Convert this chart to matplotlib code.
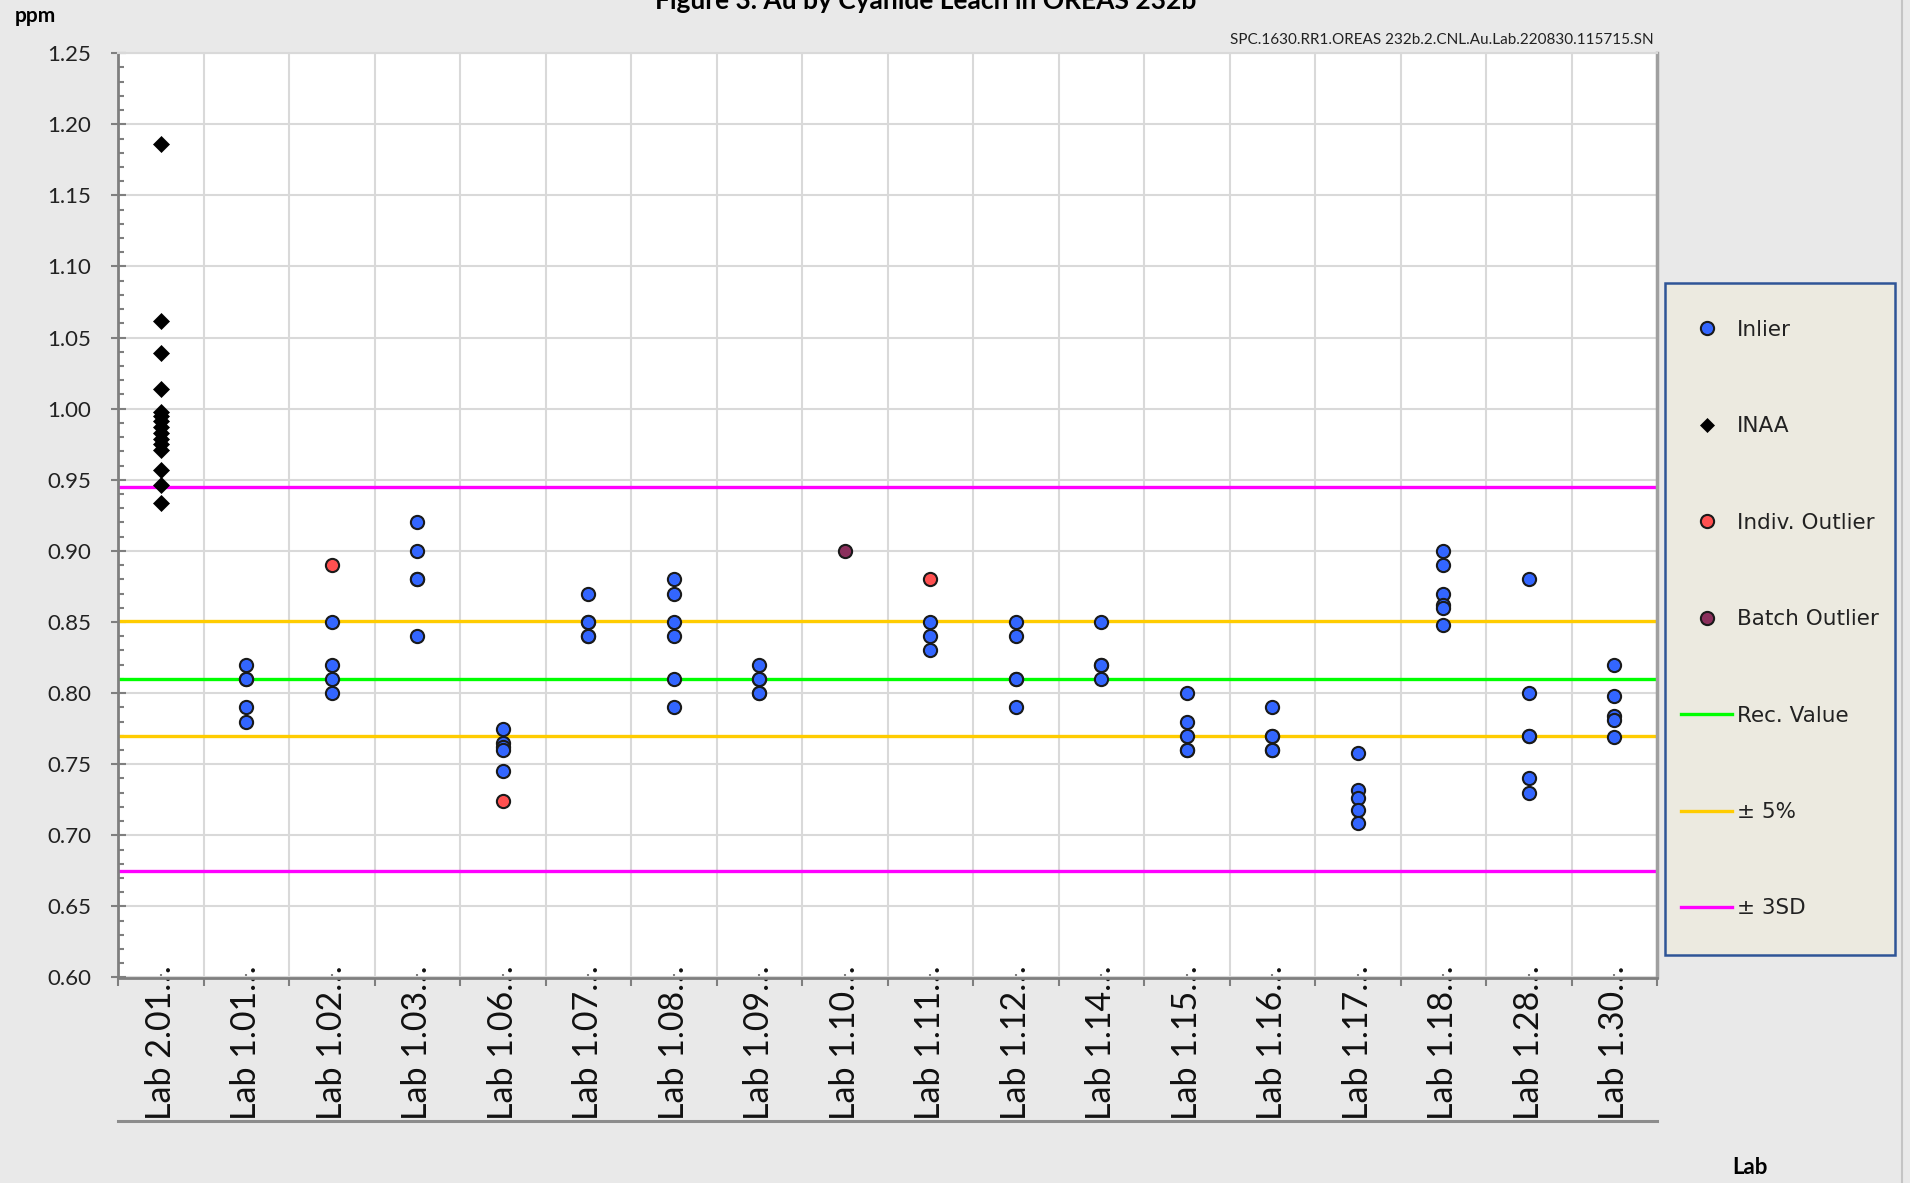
import numpy as np
import matplotlib
matplotlib.use('Agg')
import matplotlib.pyplot as plt
from matplotlib.lines import Line2D
from matplotlib.patches import Rectangle

# data (ppm)
labs = ["Lab 2.01", "Lab 1.01", "Lab 1.02", "Lab 1.03", "Lab 1.06", "Lab 1.07",
        "Lab 1.08", "Lab 1.09", "Lab 1.10", "Lab 1.11", "Lab 1.12", "Lab 1.14",
        "Lab 1.15", "Lab 1.16", "Lab 1.17", "Lab 1.18", "Lab 1.28", "Lab 1.30"]

inaa_lab = "Lab 2.01"
inaa_vals = [1.186, 1.062, 1.039, 1.014, 0.998, 0.995, 0.991, 0.987, 0.983,
             0.979, 0.975, 0.971, 0.957, 0.946, 0.934]

inlier_vals = [
    [],
    [0.82, 0.81, 0.81, 0.79, 0.78],
    [0.85, 0.82, 0.81, 0.80],
    [0.92, 0.90, 0.88, 0.88, 0.84],
    [0.775, 0.765, 0.762, 0.760, 0.745],
    [0.87, 0.85, 0.85, 0.84, 0.84],
    [0.88, 0.87, 0.85, 0.84, 0.81, 0.79],
    [0.82, 0.81, 0.81, 0.80, 0.80],
    [],
    [0.85, 0.84, 0.83],
    [0.85, 0.84, 0.81, 0.81, 0.79],
    [0.85, 0.82, 0.82, 0.81],
    [0.80, 0.78, 0.77, 0.76, 0.76],
    [0.79, 0.77, 0.77, 0.76, 0.76],
    [0.758, 0.732, 0.726, 0.718, 0.709],
    [0.90, 0.89, 0.87, 0.862, 0.860, 0.848],
    [0.88, 0.80, 0.77, 0.77, 0.74, 0.73],
    [0.82, 0.798, 0.784, 0.781, 0.769],
]

outlier_labs = ["Lab 1.02", "Lab 1.06", "Lab 1.11"]
outlier_vals = [0.89, 0.724, 0.88]

batch_labs = ["Lab 1.10"]
batch_vals = [0.90]

rec_value = 0.81
pct5_bounds = [0.7695, 0.8505]
sd3_bounds = [0.675, 0.945]

W, H = 1910, 1183
main_font = "Lato"
blue = "#3366FF"
red = "#FF5050"
maroon = "#8B2F5C"
edge = "#1a1a1a"

fig = plt.figure(figsize=(W / 100, H / 100), dpi=100, facecolor="#e9e9e9")
ax_left, ax_right, ax_top, ax_bot = 118, 1657, 53.2, 977.5
ax = fig.add_axes([ax_left / W, 1 - ax_bot / H, (ax_right - ax_left) / W, (ax_bot - ax_top) / H])
ax.set_facecolor("white")

pos = {name: i for i, name in enumerate(labs)}

# reference lines
ax.axhline(rec_value, color="#00FF00", lw=2.4, zorder=2)
for v in pct5_bounds:
    ax.axhline(v, color="#FFCC00", lw=2.4, zorder=2)
for v in sd3_bounds:
    ax.axhline(v, color="#FF00FF", lw=2.4, zorder=2)

# points
for i, vals in enumerate(inlier_vals):
    ax.plot([i] * len(vals), vals, ls="none", marker="o", ms=9.5,
            mfc=blue, mec=edge, mew=1.5, zorder=4)
ax.plot([pos[inaa_lab]] * len(inaa_vals), inaa_vals, ls="none", marker="D", ms=7.8,
        mfc="black", mec="black", mew=0.5, zorder=4)
ax.plot([pos[l] for l in outlier_labs], outlier_vals, ls="none", marker="o", ms=9.5,
        mfc=red, mec=edge, mew=1.5, zorder=4)
ax.plot([pos[l] for l in batch_labs], batch_vals, ls="none", marker="o", ms=9.5,
        mfc=maroon, mec=edge, mew=1.5, zorder=4)

# axes
ax.set_xlim(-0.5, len(labs) - 0.5)
ax.set_ylim(0.60, 1.25)
ax.set_yticks(np.arange(0.60, 1.2501, 0.05))
ax.set_yticks(np.arange(0.60, 1.2501, 0.01), minor=True)
ax.set_yticklabels(["%.2f" % v for v in np.arange(0.60, 1.2501, 0.05)],
                   fontsize=16, family=main_font)
ax.tick_params(axis="y", which="major", direction="inout", length=10.8, width=1.5,
               color="#7f7f7f", pad=14, labelcolor="#222222")
ax.tick_params(axis="y", which="minor", direction="in", length=4.3, width=1.5,
               color="#7f7f7f")

ax.set_xticks(np.arange(-0.5, len(labs), 1.0))
ax.set_xticklabels([])
ax.set_xticks(np.arange(len(labs)), minor=True)
ax.set_xticklabels([l + "\u2026" for l in labs], minor=True, rotation=90,
                   fontsize=24.5, family=main_font, color="#111111")
ax.tick_params(axis="x", which="major", direction="out", length=6, width=1.5,
               color="#7f7f7f")
ax.tick_params(axis="x", which="minor", direction="in", length=3, width=1.5,
               color="#7f7f7f", pad=-9)

ax.grid(axis="both", which="major", color="#d9d9d9", lw=1.5, zorder=0)
ax.set_axisbelow(True)
for s in ["left", "bottom"]:
    ax.spines[s].set_color("#7f7f7f")
    ax.spines[s].set_linewidth(2)
ax.spines["top"].set_color("#d9d9d9")
ax.spines["top"].set_linewidth(1.5)
ax.spines["right"].set_color("#a0a0a0")
ax.spines["right"].set_linewidth(2.5)

# line under the category labels
sep_y = (ax_bot - 1121) / (ax_bot - ax_top)
ax.plot([0, 1], [sep_y, sep_y], transform=ax.transAxes, clip_on=False,
        color="#8c8c8c", lw=2.2)

# texts
fig.text(926 / W, 1 - 9 / H, "Figure 3. Au by Cyanide Leach in OREAS 232b",
         ha="center", va="baseline", fontsize=19, fontweight="bold", family=main_font)
fig.text(15 / W, 1 - 16 / H, "ppm", ha="left", va="center", fontsize=15,
         fontweight="bold", family=main_font)
fig.text(1654 / W, 1 - 40 / H, "SPC.1630.RR1.OREAS 232b.2.CNL.Au.Lab.220830.115715.SN",
         ha="right", va="center", fontsize=11, family=main_font, color="#222222")
fig.text(1750 / W, 1 - 1167 / H, "Lab", ha="center", va="center", fontsize=16,
         fontweight="bold", family=main_font)

fig.add_artist(Line2D([1902 / W, 1902 / W], [0, 1], transform=fig.transFigure,
                      color="#c4c4c4", lw=1.5))

# legend
fig.add_artist(Rectangle((1665 / W, 1 - 955 / H), 230 / W, 672 / H,
                         transform=fig.transFigure, fc="#ECEAE0", ec="#2F5597",
                         lw=1.8, zorder=1))
handles = [
    Line2D([], [], ls="none", marker="o", ms=9.5, mfc=blue, mec=edge, mew=1.5),
    Line2D([], [], ls="none", marker="D", ms=7, mfc="black", mec="black", mew=0.5),
    Line2D([], [], ls="none", marker="o", ms=9.5, mfc=red, mec=edge, mew=1.5),
    Line2D([], [], ls="none", marker="o", ms=9.5, mfc=maroon, mec=edge, mew=1.5),
    Line2D([], [], color="#00FF00", lw=2.4),
    Line2D([], [], color="#FFCC00", lw=2.4),
    Line2D([], [], color="#FF00FF", lw=2.4),
]
names = ["Inlier", "INAA", "Indiv. Outlier", "Batch Outlier", "Rec. Value",
         "\u00b1 5%", "\u00b1 3SD"]
leg_fs = 15.5
fs_px = leg_fs * 100 / 72
leg = fig.legend(handles, names, loc="upper left",
                 bbox_to_anchor=(1681 / W, 1 - 320 / H), bbox_transform=fig.transFigure,
                 frameon=False, borderpad=0, borderaxespad=0,
                 handlelength=51 / fs_px, handletextpad=5 / fs_px,
                 labelspacing=(96 - 1.16 * fs_px) / fs_px + 0.25,
                 prop={"family": "DejaVu Sans", "size": leg_fs})
leg.set_zorder(5)
for t in leg.get_texts():
    t.set_color("#222222")

fig.savefig("out.png", dpi=100, facecolor=fig.get_facecolor())
